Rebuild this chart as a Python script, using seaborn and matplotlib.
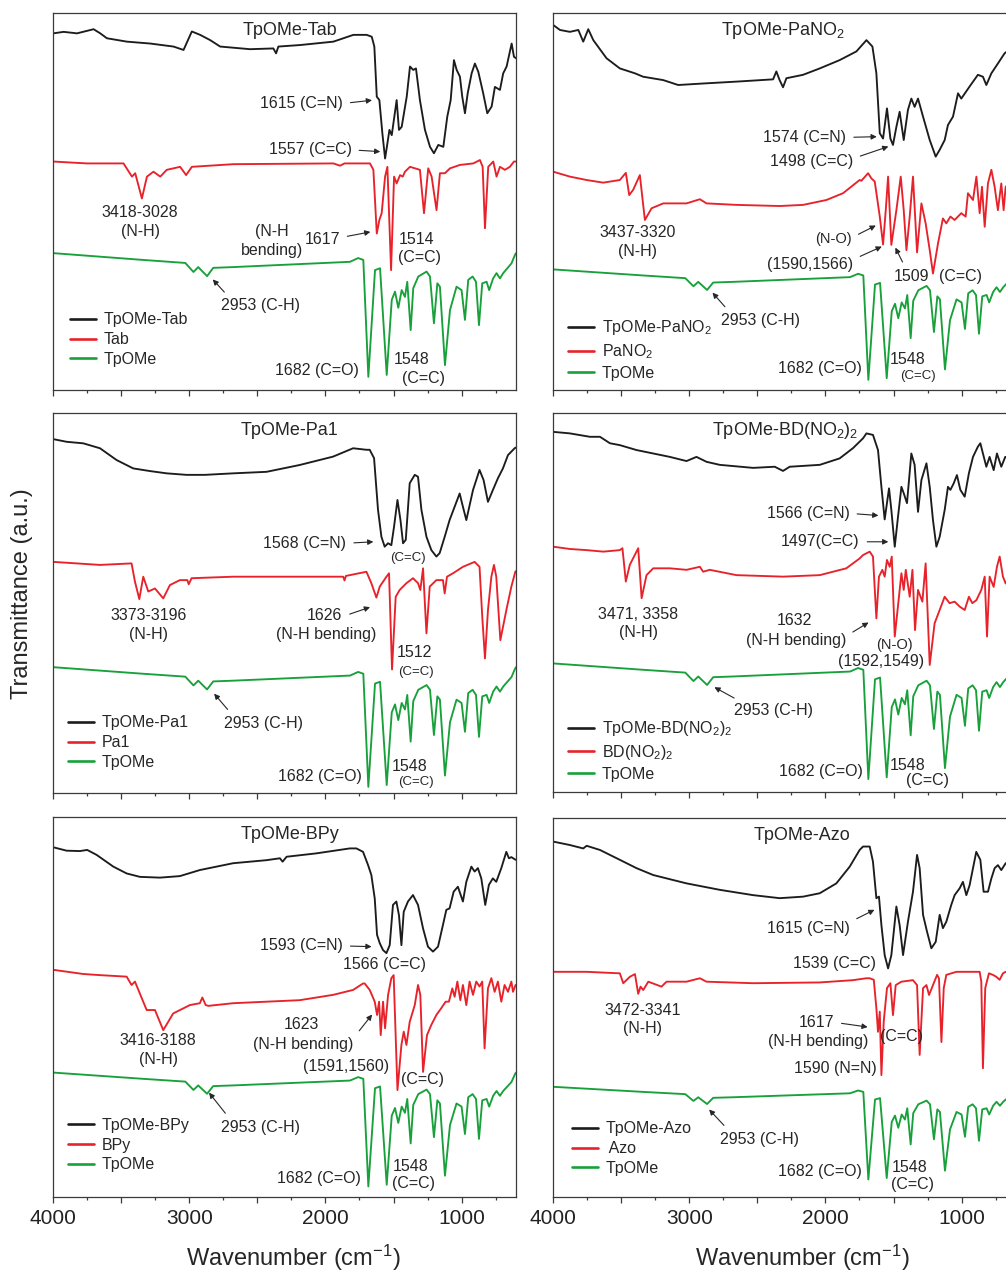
import matplotlib
matplotlib.use("Agg")
import matplotlib.pyplot as plt
from matplotlib.lines import Line2D
from matplotlib.ticker import MultipleLocator, FuncFormatter
import pandas as pd
import seaborn as sns

# ---------------------------------------------------------------------------
# FT-IR spectra, stacked transmittance (a.u.) vs wavenumber (cm^-1)
# ---------------------------------------------------------------------------

# TpOMe aldehyde reference (drawn in every panel)
TPOME = [
    (4000, 36.3), (3340, 34.5), (3030, 33.7), (2970, 31.3), (2935, 32.6), (2870, 30.2),
    (2825, 32.4), (2680, 32.6), (1820, 34.0), (1760, 35.0), (1722, 34.5), (1685, 3.5),
    (1636, 31.8), (1599, 32.3), (1550, 4.0), (1513, 23.9), (1489, 26.1), (1465, 21.8),
    (1440, 26.5), (1416, 24.7), (1399, 28.7), (1374, 15.9), (1355, 27.0), (1318, 30.1),
    (1257, 31.4), (1232, 30.1), (1203, 17.7), (1178, 28.3), (1159, 27.4), (1122, 6.6),
    (1085, 21.2), (1037, 27.4), (1000, 26.5), (975, 18.6), (951, 29.2), (919, 30.1),
    (894, 28.7), (872, 17.2), (848, 28.3), (816, 28.7), (797, 26.5), (768, 29.6),
    (743, 31.0), (718, 29.6), (694, 31.0), (633, 33.6), (608, 35.8), (600, 36.3),
]

TAB_COF = [
    (4000, 94.6), (3924, 95.0), (3826, 94.6), (3704, 95.7), (3655, 94.6), (3606, 93.3),
    (3459, 92.4), (3288, 91.9), (3117, 91.1), (3043, 90.2), (2982, 95.1), (2921, 94.2),
    (2847, 92.8), (2774, 91.1), (2554, 90.4), (2383, 90.6), (2363, 89.3), (2346, 91.1),
    (2187, 91.5), (1942, 92.4), (1795, 94.2), (1697, 94.2), (1660, 93.7), (1641, 91.1),
    (1623, 77.8), (1604, 76.9), (1582, 68.1), (1562, 61.4), (1545, 65.4), (1530, 69.0),
    (1513, 67.6), (1477, 76.9), (1460, 69.0), (1440, 69.8), (1403, 77.8), (1379, 85.8),
    (1355, 84.9), (1335, 85.3), (1306, 76.9), (1269, 69.0), (1232, 64.5), (1203, 62.8),
    (1171, 65.0), (1134, 64.5), (1105, 72.5), (1080, 76.9), (1056, 87.5), (1036, 84.9),
    (1012, 83.1), (995, 77.8), (975, 73.4), (955, 78.7), (926, 84.0), (902, 86.6),
    (877, 84.4), (841, 78.7), (811, 73.4), (779, 75.2), (755, 80.4), (718, 79.6),
    (694, 84.0), (669, 85.8), (632, 91.9), (615, 88.4), (600, 88.0),
]
TAB = [
    (4000, 60.6), (3753, 60.1), (3484, 60.1), (3422, 56.6), (3398, 57.5), (3349, 50.8),
    (3312, 56.6), (3264, 57.9), (3214, 56.6), (3166, 58.4), (3068, 59.2), (3024, 57.0),
    (2982, 59.2), (2676, 59.9), (1942, 60.1), (1893, 59.5), (1860, 60.1), (1697, 60.1),
    (1673, 60.1), (1648, 58.4), (1623, 41.5), (1604, 45.1), (1587, 46.9), (1562, 56.6),
    (1545, 59.2), (1518, 31.8), (1496, 56.6), (1477, 54.8), (1452, 57.0), (1432, 56.6),
    (1416, 57.9), (1379, 59.2), (1306, 58.4), (1276, 46.9), (1245, 58.8), (1220, 56.6),
    (1184, 47.7), (1159, 57.5), (1122, 57.5), (1085, 58.8), (1012, 59.7), (914, 60.1),
    (865, 61.0), (845, 59.2), (828, 42.9), (804, 59.2), (767, 60.6), (743, 56.6),
    (718, 59.2), (681, 58.4), (645, 59.2), (615, 60.6), (600, 60.6),
]

PANO2_COF = [
    (4000, 96.8), (3951, 95.5), (3878, 95.0), (3816, 95.5), (3780, 92.4), (3743, 95.7),
    (3706, 92.8), (3609, 88.0), (3511, 85.3), (3400, 84.0), (3340, 83.1), (3192, 82.2),
    (3082, 80.9), (2899, 81.3), (2654, 81.8), (2385, 82.4), (2361, 84.5), (2337, 82.2),
    (2312, 80.3), (2287, 82.7), (2165, 83.6), (2042, 85.3), (1896, 87.5), (1773, 89.8),
    (1699, 92.8), (1655, 91.1), (1626, 84.0), (1601, 68.1), (1577, 66.7), (1548, 74.7),
    (1523, 66.7), (1504, 65.0), (1479, 69.8), (1455, 73.8), (1425, 66.3), (1394, 74.3),
    (1369, 77.3), (1345, 75.1), (1320, 77.3), (1283, 72.5), (1234, 66.3), (1190, 61.9),
    (1161, 63.7), (1124, 66.3), (1100, 70.3), (1063, 72.5), (1026, 78.7), (1002, 77.3),
    (941, 80.5), (880, 83.6), (843, 83.1), (818, 80.9), (781, 84.0), (733, 86.6),
    (684, 89.3), (640, 90.5), (600, 91.0),
]
PANO2 = [
    (4000, 57.9), (3878, 56.6), (3755, 55.7), (3633, 55.0), (3511, 55.7), (3467, 57.6),
    (3442, 51.7), (3413, 53.1), (3364, 57.0), (3327, 45.1), (3278, 48.2), (3192, 49.5),
    (3021, 49.5), (2923, 50.6), (2874, 49.5), (2654, 49.1), (2336, 48.8), (2165, 49.1),
    (1993, 50.4), (1871, 52.2), (1749, 55.7), (1736, 55.5), (1687, 57.5), (1662, 56.1),
    (1638, 55.3), (1601, 46.0), (1577, 38.6), (1557, 47.7), (1540, 56.6), (1516, 38.5),
    (1479, 47.7), (1447, 56.6), (1425, 47.7), (1405, 37.1), (1381, 46.0), (1357, 56.6),
    (1327, 36.5), (1295, 49.5), (1264, 44.2), (1234, 37.1), (1210, 30.9), (1173, 38.9),
    (1137, 45.5), (1112, 44.2), (1082, 46.0), (1051, 45.1), (1002, 46.9), (970, 46.0),
    (953, 52.2), (916, 50.4), (891, 56.6), (867, 46.9), (850, 53.9), (830, 43.3),
    (806, 54.8), (781, 58.4), (757, 53.9), (733, 47.7), (708, 54.8), (691, 47.7),
    (676, 53.9), (640, 55.0), (600, 55.0),
]

PA1_COF = [
    (4000, 93.2), (3902, 92.5), (3780, 92.1), (3657, 90.8), (3535, 87.7), (3413, 85.5),
    (3290, 84.8), (3167, 84.2), (3021, 83.8), (2886, 83.8), (2678, 84.2), (2433, 84.6),
    (2189, 86.4), (1944, 88.6), (1797, 90.8), (1699, 90.4), (1675, 90.4), (1643, 88.2),
    (1614, 74.6), (1589, 67.5), (1565, 64.9), (1540, 65.8), (1516, 65.3), (1496, 70.2),
    (1471, 77.2), (1449, 71.9), (1430, 65.8), (1410, 66.7), (1381, 81.6), (1344, 83.8),
    (1320, 83.3), (1295, 74.6), (1258, 67.5), (1222, 64.0), (1185, 62.3), (1161, 63.2),
    (1124, 67.5), (1088, 71.9), (1051, 75.4), (1014, 78.9), (990, 75.4), (965, 71.9),
    (916, 79.8), (868, 85.1), (838, 82.4), (806, 76.7), (770, 79.8), (733, 82.9),
    (696, 85.5), (659, 89.0), (610, 90.8), (600, 91.0),
]
PA1 = [
    (4000, 60.9), (3657, 60.1), (3425, 60.5), (3400, 55.7), (3368, 51.1), (3339, 57.0),
    (3302, 53.1), (3253, 53.9), (3192, 51.3), (3143, 54.8), (3070, 56.1), (3015, 56.1),
    (3005, 55.0), (2984, 56.6), (2678, 57.0), (2189, 57.0), (1870, 57.0), (1860, 56.0),
    (1850, 57.2), (1699, 58.3), (1663, 55.3), (1626, 51.5), (1601, 54.4), (1552, 57.0),
    (1533, 57.9), (1511, 32.6), (1484, 51.7), (1455, 53.5), (1405, 55.3), (1357, 56.6),
    (1320, 55.3), (1303, 53.5), (1283, 59.2), (1258, 42.1), (1234, 54.4), (1185, 56.1),
    (1137, 56.1), (1124, 52.6), (1107, 57.0), (1063, 57.9), (990, 59.6), (904, 60.9),
    (868, 59.6), (848, 46.5), (828, 35.5), (806, 48.2), (781, 57.0), (762, 60.1),
    (745, 57.0), (715, 40.3), (671, 48.2), (634, 54.4), (605, 58.3), (600, 58.5),
]

BDNO2_COF = [
    (4000, 95.1), (3878, 94.7), (3731, 93.8), (3657, 93.8), (3584, 92.1), (3511, 91.6),
    (3388, 90.3), (3266, 89.4), (3144, 88.5), (3021, 87.4), (2948, 88.5), (2874, 87.2),
    (2777, 86.4), (2532, 85.6), (2373, 85.9), (2312, 84.8), (2263, 85.9), (2042, 86.4),
    (1896, 88.1), (1798, 90.8), (1724, 93.4), (1699, 94.7), (1651, 94.3), (1614, 90.3),
    (1589, 80.6), (1565, 72.0), (1533, 80.2), (1516, 74.5), (1491, 64.8), (1467, 72.7),
    (1442, 80.6), (1425, 78.9), (1401, 76.3), (1369, 89.4), (1345, 86.4), (1320, 74.0),
    (1295, 82.4), (1258, 86.8), (1234, 80.6), (1210, 71.8), (1185, 64.8), (1161, 67.4),
    (1124, 74.5), (1100, 80.6), (1082, 79.8), (1058, 81.5), (1034, 83.7), (1009, 79.8),
    (977, 78.0), (946, 84.2), (916, 88.5), (880, 91.2), (862, 92.1), (843, 89.4),
    (818, 85.9), (794, 88.5), (764, 85.0), (740, 89.4), (708, 85.9), (679, 88.5),
    (640, 88.0), (600, 89.0),
]
BDNO2 = [
    (4000, 64.8), (3878, 64.2), (3755, 63.9), (3633, 63.5), (3511, 63.9), (3492, 64.4),
    (3467, 55.6), (3438, 60.0), (3376, 64.4), (3351, 51.2), (3315, 57.3), (3266, 59.1),
    (3144, 59.1), (3021, 58.7), (2923, 59.5), (2899, 58.2), (2850, 58.7), (2654, 57.3),
    (2312, 56.9), (2042, 57.3), (1847, 59.1), (1749, 61.7), (1724, 62.6), (1675, 63.5),
    (1651, 62.2), (1626, 45.9), (1607, 56.9), (1582, 58.7), (1565, 56.9), (1548, 61.3),
    (1528, 59.5), (1513, 62.2), (1491, 41.1), (1460, 51.6), (1442, 57.8), (1425, 53.4),
    (1410, 58.7), (1381, 51.6), (1361, 58.7), (1342, 42.8), (1320, 53.4), (1288, 50.3),
    (1264, 60.4), (1234, 33.6), (1198, 44.6), (1161, 48.1), (1124, 51.6), (1088, 49.9),
    (1051, 50.3), (1014, 49.0), (977, 48.1), (946, 51.6), (921, 49.9), (891, 50.7),
    (855, 53.4), (830, 56.9), (813, 41.1), (794, 56.9), (764, 54.2), (740, 59.5),
    (720, 62.2), (696, 56.9), (676, 55.1), (640, 58.0), (600, 60.0),
]

BPY_COF = [
    (4000, 92.1), (3902, 91.2), (3804, 91.1), (3751, 91.4), (3682, 90.1), (3559, 87.0),
    (3461, 85.2), (3363, 84.3), (3216, 84.1), (3070, 84.5), (2923, 86.1), (2678, 87.9),
    (2433, 88.7), (2335, 89.2), (2315, 88.3), (2286, 89.6), (2066, 90.5), (1821, 91.8),
    (1773, 91.8), (1724, 90.9), (1687, 87.4), (1663, 84.8), (1638, 78.6), (1621, 69.0),
    (1601, 66.8), (1577, 65.0), (1552, 64.2), (1528, 66.3), (1504, 76.9), (1479, 77.8),
    (1460, 74.2), (1442, 66.3), (1425, 75.1), (1394, 77.8), (1357, 79.5), (1320, 76.9),
    (1283, 70.7), (1247, 65.9), (1210, 64.6), (1173, 65.9), (1137, 71.6), (1112, 75.6),
    (1088, 76.0), (1058, 80.4), (1027, 81.7), (990, 77.8), (965, 83.0), (928, 87.0),
    (904, 85.7), (880, 86.6), (855, 83.9), (826, 76.9), (799, 82.2), (770, 83.9),
    (745, 83.0), (708, 86.6), (671, 90.9), (652, 89.2), (634, 89.5), (603, 88.8),
    (600, 88.8),
]
BPY = [
    (4000, 59.8), (3780, 58.7), (3657, 58.4), (3461, 58.0), (3425, 55.8), (3400, 56.7),
    (3314, 49.2), (3253, 49.2), (3192, 43.9), (3119, 48.3), (2997, 50.5), (2923, 51.0),
    (2905, 52.5), (2880, 50.5), (2860, 50.3), (2678, 51.0), (2433, 51.4), (2189, 51.8),
    (1944, 53.2), (1797, 54.5), (1724, 56.2), (1712, 56.2), (1675, 54.5), (1638, 51.4),
    (1621, 47.9), (1606, 51.4), (1594, 42.6), (1577, 51.4), (1562, 44.4), (1540, 53.2),
    (1516, 57.6), (1499, 58.4), (1471, 28.1), (1442, 40.0), (1425, 43.5), (1405, 40.0),
    (1381, 46.1), (1344, 50.5), (1320, 55.8), (1303, 53.2), (1283, 32.9), (1254, 42.6),
    (1222, 45.3), (1185, 47.9), (1149, 49.7), (1117, 51.4), (1093, 51.4), (1068, 54.9),
    (1051, 52.7), (1031, 56.7), (1009, 51.8), (990, 55.8), (965, 50.5), (941, 56.7),
    (916, 53.2), (892, 56.7), (868, 55.4), (848, 56.7), (831, 39.1), (806, 54.9),
    (781, 57.6), (757, 54.0), (733, 56.7), (708, 51.4), (684, 55.8), (659, 54.0),
    (634, 56.7), (622, 54.0), (603, 55.8), (600, 55.8),
]

AZO_COF = [
    (4000, 93.7), (3878, 92.8), (3780, 91.9), (3755, 92.6), (3657, 91.5), (3511, 88.9),
    (3388, 86.7), (3266, 84.9), (3144, 83.8), (3021, 82.7), (2777, 81.0), (2532, 79.6),
    (2336, 78.8), (2165, 79.2), (2042, 80.1), (1920, 82.7), (1822, 87.1), (1749, 91.5),
    (1724, 92.4), (1675, 92.4), (1651, 88.4), (1626, 78.8), (1607, 79.2), (1589, 71.7),
    (1565, 63.8), (1540, 60.3), (1516, 63.8), (1479, 76.6), (1455, 71.7), (1430, 63.8),
    (1394, 72.6), (1357, 80.5), (1327, 90.2), (1308, 86.7), (1283, 74.4), (1254, 70.0),
    (1222, 65.6), (1190, 67.3), (1161, 74.4), (1137, 70.9), (1112, 72.6), (1076, 77.0),
    (1051, 79.6), (1014, 81.4), (990, 83.1), (965, 79.6), (941, 82.2), (892, 91.0),
    (862, 88.9), (838, 80.5), (806, 80.5), (781, 84.0), (757, 86.7), (733, 87.5),
    (708, 86.2), (676, 88.0), (640, 88.5), (600, 89.0),
]
AZO = [
    (4000, 59.4), (3755, 59.4), (3511, 59.0), (3486, 56.4), (3437, 58.1), (3400, 58.8),
    (3376, 53.6), (3359, 55.5), (3339, 54.6), (3302, 56.8), (3205, 55.5), (3168, 56.8),
    (3021, 56.8), (2923, 57.7), (2874, 56.8), (2532, 56.4), (2042, 56.6), (1798, 57.2),
    (1700, 57.7), (1675, 57.7), (1645, 57.3), (1626, 49.8), (1614, 43.6), (1601, 48.9),
    (1589, 32.2), (1572, 46.3), (1548, 55.1), (1523, 56.4), (1504, 48.0), (1484, 55.9),
    (1442, 56.8), (1357, 57.2), (1327, 55.9), (1308, 37.5), (1283, 55.1), (1258, 55.9),
    (1239, 53.3), (1210, 55.9), (1180, 58.6), (1166, 57.7), (1148, 40.9), (1131, 55.1),
    (1112, 58.6), (1038, 59.4), (941, 59.4), (867, 59.4), (855, 56.8), (843, 34.0),
    (826, 55.1), (799, 59.0), (770, 58.6), (745, 58.1), (720, 57.3), (696, 59.0),
    (676, 59.4), (640, 59.0), (600, 59.0),
]

# ---------------------------------------------------------------------------
# styling
# ---------------------------------------------------------------------------
BLACK = "#1c1c1c"
RED = "#e8222a"
GREEN = "#18a03a"
INK = "#262626"
SPINE = "#3a3a3a"
NOTE_SIZE = 11.5

sns.set_theme(style="white")
plt.rcParams["font.family"] = ["Liberation Sans", "DejaVu Sans"]
plt.rcParams["mathtext.fontset"] = "custom"
plt.rcParams["mathtext.rm"] = "Liberation Sans"
plt.rcParams["mathtext.it"] = "Liberation Sans:italic"
plt.rcParams["mathtext.bf"] = "Liberation Sans:bold"

FIG_W, FIG_H = 1006, 1272
fig = plt.figure(figsize=(FIG_W / 100, FIG_H / 100), dpi=100)
fig.patch.set_facecolor("white")


def box(left, top, width, height):
    return [left / FIG_W, 1 - (top + height) / FIG_H, width / FIG_W, height / FIG_H]


def frame(pairs, label):
    return pd.DataFrame({
        "wavenumber": [p[0] for p in pairs],
        "T": [p[1] for p in pairs],
        "sample": label,
    })


def note(ax, text, xy, ha="center", tip=None, rel=(0.5, 0.5), size=NOTE_SIZE):
    kw = dict(ha=ha, va="center", fontsize=size, color=INK, linespacing=1.3, zorder=5)
    if tip is None:
        ax.text(xy[0], xy[1], text, **kw)
    else:
        ax.annotate(text, xy=tip, xytext=xy,
                    arrowprops=dict(arrowstyle="-|>", color=INK, lw=0.8,
                                    mutation_scale=8, shrinkA=3, shrinkB=1,
                                    relpos=rel),
                    **kw)


def draw_panel(rect, title, title_x, cof, cof_label, linker, linker_label,
               tp_scale, tp_shift, legend_at, notes, bottom):
    ax = fig.add_axes(rect)
    tp = [(w, t * tp_scale + tp_shift) for w, t in TPOME]
    df = pd.concat([frame(cof, cof_label), frame(linker, linker_label), frame(tp, "TpOMe")],
                   ignore_index=True)
    sns.lineplot(data=df, x="wavenumber", y="T", hue="sample",
                 hue_order=[cof_label, linker_label, "TpOMe"],
                 palette=[BLACK, RED, GREEN], estimator=None, sort=False,
                 legend=False, linewidth=1.35, ax=ax)
    for ln in ax.lines:
        ln.set_solid_joinstyle("round")
    ax.set_xlim(4000, 600)
    ax.set_ylim(0, 100)
    ax.set_xlabel("")
    ax.set_ylabel("")
    ax.set_yticks([])
    for sp in ax.spines.values():
        sp.set_visible(True)
        sp.set_color(SPINE)
        sp.set_linewidth(0.9)
    ax.xaxis.set_major_locator(MultipleLocator(500))
    ax.xaxis.set_minor_locator(MultipleLocator(250))
    ax.xaxis.set_major_formatter(
        FuncFormatter(lambda v, p: f"{int(round(v))}" if round(v) % 1000 == 0 else ""))
    ax.tick_params(axis="x", which="major", direction="out", length=4.5, width=0.9,
                   color=SPINE, labelsize=15, pad=4, labelcolor="#222222",
                   bottom=True, top=False, labelbottom=bottom)
    ax.tick_params(axis="x", which="minor", direction="out", length=2.5, width=0.9,
                   color=SPINE, bottom=True, top=False)

    ax.text(title_x, 95.4, title, ha="center", va="center", fontsize=13, color=INK)

    handles = [Line2D([], [], color=c, lw=1.9) for c in (BLACK, RED, GREEN)]
    ax.legend(handles, [cof_label, linker_label, "TpOMe"], loc="upper left",
              bbox_to_anchor=legend_at, frameon=False, fontsize=11.5,
              handlelength=1.65, handletextpad=0.45, labelspacing=0.3,
              borderpad=0, borderaxespad=0, labelcolor=INK)

    for n in notes:
        note(ax, *n)
    return ax


SMALL = 9.5

panels = [
    dict(rect=box(53.3, 13, 462.7, 377), title="TpOMe-Tab", title_x=2262,
         cof=TAB_COF, cof_label="TpOMe-Tab", linker=TAB, linker_label="Tab",
         tp_scale=1.0, tp_shift=0.0, legend_at=(0.036, 0.206), bottom=False,
         notes=[
             ("1615 (C=N)", (1871, 76.0), "right", (1648, 76.9), (1, 0.5)),
             ("1557 (C=C)", (1807, 63.7), "right", (1587, 63.2), (1, 0.5)),
             ("3418-3028\n(N-H)", (3361, 44.6), "center"),
             ("(N-H\nbending)", (2395, 39.6), "center"),
             ("1617", (2024, 40.0), "center", (1660, 42.0), (1, 0.6)),
             ("1514\n(C=C)", (1465, 37.5), "left"),
             ("2953 (C-H)", (2480, 22.3), "center", (2835, 29.6), (0.12, 1)),
             ("1682 (C=O)", (1758, 5.3), "right"),
             ("1548", (1500, 8.0), "left"),
             ("(C=C)", (1283, 3.1), "center"),
         ]),
    dict(rect=box(553.3, 13, 462.7, 377), title="TpOMe-PaNO$_2$", title_x=2311,
         cof=PANO2_COF, cof_label="TpOMe-PaNO$_2$", linker=PANO2, linker_label="PaNO$_2$",
         tp_scale=0.893, tp_shift=-0.43, legend_at=(0.032, 0.19), bottom=False,
         notes=[
             ("1574 (C=N)", (1846, 67.0), "right", (1613, 67.2), (1, 0.5)),
             ("1498 (C=C)", (1797, 60.6), "right", (1528, 64.7), (1, 0.7)),
             ("3437-3320\n(N-H)", (3383, 39.2), "center"),
             ("(N-O)", (1809, 40.0), "right", (1621, 43.8), (1, 0.6), 10.5),
             ("(1590,1566)", (1797, 33.4), "right", (1577, 38.2), (1, 0.8)),
             ("1509", (1369, 30.1), "center", (1491, 38.1), (0.35, 1)),
             ("(C=C)", (1007, 30.1), "center"),
             ("2953 (C-H)", (2477, 18.4), "center", (2837, 26.1), (0.12, 1)),
             ("1682 (C=O)", (1736, 5.7), "right"),
             ("1548", (1528, 8.0), "left"),
             ("(C=C)", (1320, 3.7), "center", None, (0.5, 0.5), SMALL),
         ]),
    dict(rect=box(53.3, 413.3, 462.7, 380), title="TpOMe-Pa1", title_x=2262,
         cof=PA1_COF, cof_label="TpOMe-Pa1", linker=PA1, linker_label="Pa1",
         tp_scale=0.96, tp_shift=-1.66, legend_at=(0.032, 0.205), bottom=False,
         notes=[
             ("1568 (C=N)", (1846, 65.8), "right", (1638, 66.2), (1, 0.5)),
             ("(C=C)", (1394, 61.8), "center", None, (0.5, 0.5), SMALL),
             ("3373-3196\n(N-H)", (3302, 44.3), "center"),
             ("1626", (2005, 46.9), "center", (1663, 49.1), (1, 0.4)),
             ("(N-H bending)", (1993, 41.8), "center"),
             ("1512", (1479, 37.0), "left"),
             ("(C=C)", (1467, 32.0), "left", None, (0.5, 0.5), SMALL),
             ("2953 (C-H)", (2458, 18.4), "center", (2825, 26.5), (0.12, 1)),
             ("1682 (C=O)", (1736, 4.4), "right"),
             ("1548", (1516, 7.0), "left"),
             ("(C=C)", (1332, 3.1), "center", None, (0.5, 0.5), SMALL),
         ]),
    dict(rect=box(553.3, 413.3, 462.7, 379), title="TpOMe-BD(NO$_2$)$_2$", title_x=2299,
         cof=BDNO2_COF, cof_label="TpOMe-BD(NO$_2$)$_2$", linker=BDNO2,
         linker_label="BD(NO$_2$)$_2$",
         tp_scale=0.93, tp_shift=0.24, legend_at=(0.032, 0.193), bottom=False,
         notes=[
             ("1566 (C=N)", (1822, 73.6), "right", (1601, 73.0), (1, 0.5)),
             ("1497(C=C)", (1748, 66.1), "right", (1528, 66.1), (1, 0.5)),
             ("3471, 3358\n(N-H)", (3376, 44.5), "center"),
             ("1632", (2226, 45.2), "center"),
             ("(N-H bending)", (2218, 40.0), "center", (1675, 45.0), (1, 0.8)),
             ("(N-O)", (1492, 38.9), "center", None, (0.5, 0.5), 10.5),
             ("(1592,1549)", (1589, 34.6), "center"),
             ("2953 (C-H)", (2380, 21.5), "center", (2825, 27.9), (0.12, 1)),
             ("1682 (C=O)", (1724, 5.6), "right"),
             ("1548", (1528, 7.0), "left"),
             ("(C=C)", (1247, 3.2), "center"),
         ]),
    dict(rect=box(53.3, 817.3, 462.7, 379.4), title="TpOMe-BPy", title_x=2262,
         cof=BPY_COF, cof_label="TpOMe-BPy", linker=BPY, linker_label="BPy",
         tp_scale=0.915, tp_shift=-0.5, legend_at=(0.032, 0.208), bottom=True,
         notes=[
             ("1593 (C=N)", (1871, 66.1), "right", (1651, 65.9), (1, 0.5)),
             ("1566 (C=C)", (1565, 61.1), "center"),
             ("3416-3188\n(N-H)", (3229, 38.7), "center"),
             ("1623", (2176, 45.3), "center"),
             ("(N-H bending)", (2164, 40.2), "center", (1651, 48.3), (1, 0.9)),
             ("(1591,1560)", (1846, 34.3), "center"),
             ("(C=C)", (1288, 31.0), "center"),
             ("2953 (C-H)", (2477, 18.3), "center", (2862, 27.7), (0.12, 1)),
             ("1682 (C=O)", (1741, 4.8), "right"),
             ("1548", (1508, 7.9), "left"),
             ("(C=C)", (1508, 3.5), "left"),
         ]),
    dict(rect=box(553.3, 817.7, 462.7, 379.6), title="TpOMe-Azo", title_x=2176,
         cof=AZO_COF, cof_label="TpOMe-Azo", linker=AZO, linker_label=" Azo",
         tp_scale=0.744, tp_shift=2.1, legend_at=(0.04, 0.2), bottom=True,
         notes=[
             ("1615 (C=N)", (1822, 70.9), "right", (1631, 75.9), (1, 0.9)),
             ("1539 (C=C)", (1626, 61.5), "right"),
             ("3472-3341\n(N-H)", (3344, 46.8), "center"),
             ("1617", (2067, 46.1), "center", (1680, 44.8), (1, 0.5)),
             ("(N-H bending)", (2050, 41.0), "center"),
             ("(C=C)", (1442, 42.3), "center"),
             ("1590 (N=N)", (1626, 34.0), "right"),
             ("2953 (C-H)", (2482, 15.3), "center", (2862, 23.4), (0.12, 1)),
             ("1682 (C=O)", (1731, 6.7), "right"),
             ("1548", (1516, 7.9), "left"),
             ("(C=C)", (1516, 3.4), "left"),
         ]),
]

for p in panels:
    draw_panel(**p)

fig.text(21.7 / FIG_W, 1 - 594 / FIG_H, "Transmittance (a.u.)", rotation=90,
         ha="center", va="center", fontsize=17, color=INK)
for cx in (293, 802):
    fig.text(cx / FIG_W, 1 - 1258 / FIG_H, "Wavenumber (cm$^{-1}$)",
             ha="center", va="center", fontsize=17, color=INK)

fig.savefig("out.png", dpi=100, facecolor="white")
